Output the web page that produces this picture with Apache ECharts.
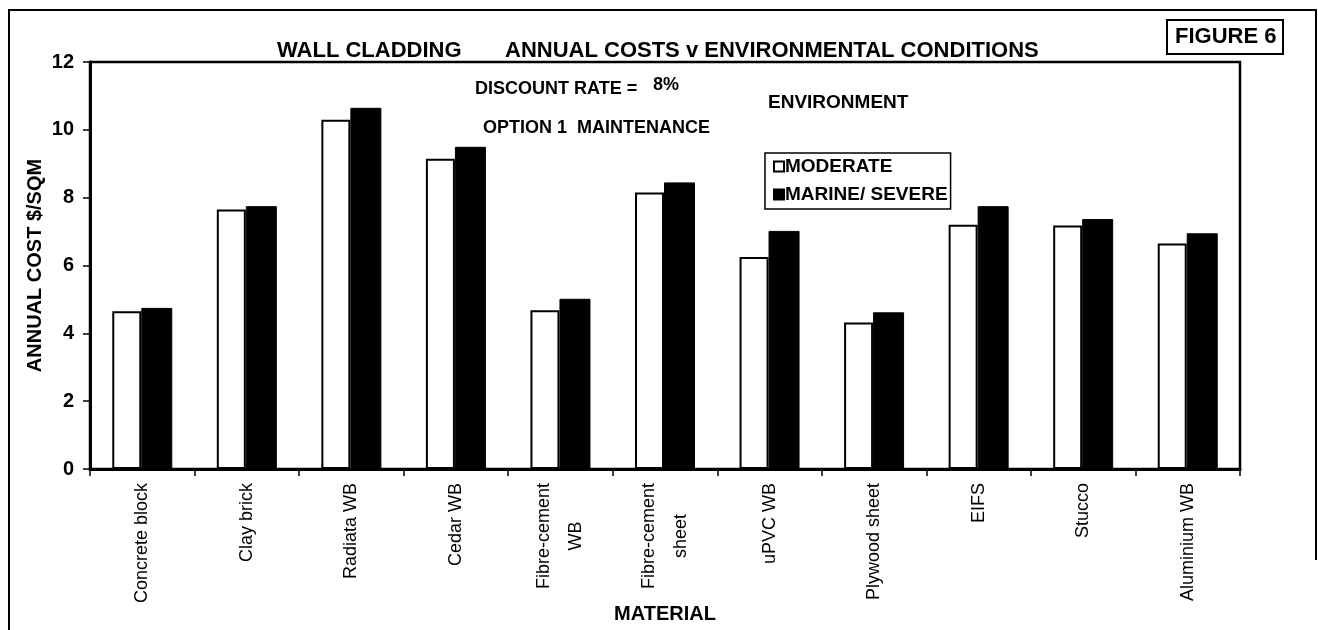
<!DOCTYPE html>
<html>
<head>
<meta charset="utf-8">
<script src="https://cdn.jsdelivr.net/npm/echarts@6/dist/echarts.min.js"></script>
<style>
  html, body { margin: 0; padding: 0; background: #fff; }
  #chart { width: 1318px; height: 630px; }
</style>
</head>
<body>
<div id="chart"></div>
<script>
// data
const materials = ['Concrete block', 'Clay brick', 'Radiata WB', 'Cedar WB', 'Fibre-cement\nWB',
  'Fibre-cement\nsheet', 'uPVC WB', 'Plywood sheet', 'EIFS', 'Stucco', 'Aluminium WB']
const seriesNames = ['MODERATE', 'MARINE/ SEVERE']
const moderate = [4.65, 7.65, 10.3, 9.15, 4.68, 8.15, 6.25, 4.32, 7.2, 7.18, 6.65]
const marine = [4.75, 7.75, 10.65, 9.5, 5.02, 8.45, 7.02, 4.62, 7.75, 7.37, 6.95]
const yTicks = [0, 2, 4, 6, 8, 10, 12]

const font = '"Liberation Sans", Arial, sans-serif'
const black = '#000'

function note (text, left, top, size) {
  return {
    text: text, left: left, top: top, padding: 0,
    textStyle: { fontFamily: font, fontSize: size, fontWeight: 'bold', color: black }
  }
}

let chart = echarts.init(document.getElementById('chart'))
let option = {
  backgroundColor: '#fff',
  animation: false,
  title: [
    note('WALL CLADDING', 277, 40, 22),
    note('ANNUAL COSTS v ENVIRONMENTAL CONDITIONS', 505, 40, 22),
    {
      text: 'FIGURE 6',
      left: 1167, top: 20,
      padding: [6, 7, 6, 8],
      borderColor: black, borderWidth: 2,
      textStyle: { fontFamily: font, fontSize: 22, fontWeight: 'bold', color: black }
    },
    note('DISCOUNT RATE =', 475, 80, 18),
    note('8%', 653, 76, 18),
    note('OPTION 1  MAINTENANCE', 483, 119, 18),
    note('ENVIRONMENT', 768, 93, 19)
  ],
  legend: {
    data: seriesNames,
    orient: 'vertical',
    left: 765,
    top: 153,
    icon: 'rect',
    itemWidth: 10,
    itemHeight: 10,
    itemGap: 9,
    padding: [4, 3, 5, 8],
    borderColor: black,
    borderWidth: 1.5,
    textStyle: {
      fontFamily: font, fontSize: 19, fontWeight: 'bold', color: black,
      padding: [0, 0, 0, -4]
    }
  },
  grid: {
    left: 90,
    right: 78,
    top: 62,
    bottom: 161,
    outerBoundsMode: 'none',
    show: true,
    borderColor: black,
    borderWidth: 2.5
  },
  xAxis: {
    type: 'category',
    data: materials,
    name: 'MATERIAL',
    nameLocation: 'middle',
    nameGap: 135,
    nameMoveOverlap: false,
    nameTextStyle: { fontFamily: font, fontSize: 20, fontWeight: 'bold', color: black },
    axisLine: { lineStyle: { color: black, width: 3 } },
    axisTick: { show: true, length: 7, lineStyle: { color: black, width: 1.5 } },
    axisLabel: {
      interval: 0,
      rotate: 90,
      margin: 14,
      fontFamily: font,
      fontSize: 18,
      color: black,
      formatter: function (v) {
        if (v.indexOf('\n') < 0) return v
        return v.split('\n').map(function (s) { return '{c|' + s + '}' }).join('\n')
      },
      rich: {
        c: { align: 'center', fontFamily: font, fontSize: 18, color: black, lineHeight: 32 }
      }
    },
    splitLine: { show: false }
  },
  yAxis: {
    type: 'value',
    min: 0,
    max: 12,
    interval: 2,
    name: 'ANNUAL COST $/SQM',
    nameLocation: 'middle',
    nameRotate: 90,
    nameGap: 45,
    nameMoveOverlap: false,
    nameTextStyle: { fontFamily: font, fontSize: 20, fontWeight: 'bold', color: black },
    axisLine: { show: true, lineStyle: { color: black, width: 3 } },
    axisTick: { show: true, length: 7, lineStyle: { color: black, width: 1.5 } },
    axisLabel: {
      margin: 16,
      fontFamily: font,
      fontSize: 20,
      fontWeight: 'bold',
      color: black,
      formatter: function (v) { return yTicks.indexOf(v) >= 0 ? String(v) : '' }
    },
    splitLine: { show: false }
  },
  series: [
    {
      name: seriesNames[0],
      type: 'bar',
      data: moderate,
      barWidth: 29,
      barGap: '0%',
      itemStyle: { color: '#fff', borderColor: black, borderWidth: 2 }
    },
    {
      name: seriesNames[1],
      type: 'bar',
      data: marine,
      barWidth: 31,
      barGap: '0%',
      itemStyle: { color: black, borderColor: black, borderWidth: 1 }
    }
  ],
  graphic: [
    {
      type: 'polyline',
      shape: { points: [[9, 630], [9, 10], [1316, 10], [1316, 560]] },
      style: { stroke: black, lineWidth: 2, fill: null }
    }
  ]
}
chart.setOption(option)
window.addEventListener('resize', function () { chart.resize() })
</script>
</body>
</html>
